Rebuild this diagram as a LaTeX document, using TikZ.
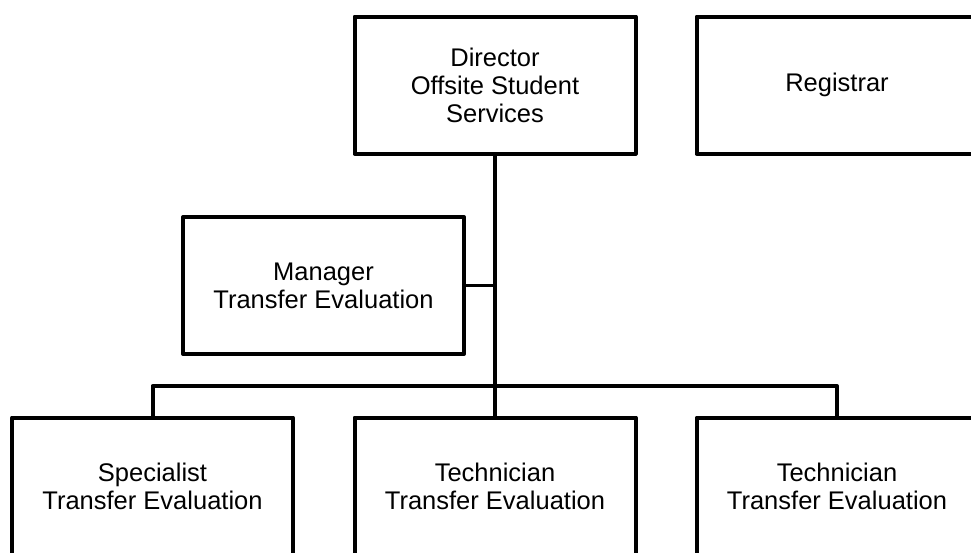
\documentclass[tikz,border=0pt]{standalone}
\usepackage{fontspec}
\setmainfont{Liberation Sans}
\usetikzlibrary{positioning}

\begin{document}
\begin{tikzpicture}[x=1pt, y=-1pt, line join=round,
	box/.style={draw, line width=4pt, minimum width=281pt, minimum height=137pt, align=center, inner sep=0pt, font=\fontsize{25.5}{28}\selectfont},
	link/.style={draw, line width=4pt}]
	\useasboundingbox (0,0) rectangle (971,552);
	\clip (0,0) rectangle (971,552);
	% top row
	\node[box] (director) at (495,85) {Director\\Offsite Student\\Services};
	\node[box] (registrar) at (837,85) {Registrar};
	% staff position beside the main line
	\node[box] (manager) at (323.5,285.5) {Manager\\Transfer Evaluation};
	% bottom row
	\node[box] (specialist) at (152.5,486) {Specialist\\Transfer Evaluation};
	\node[box] (technicianA) at (495,486) {Technician\\Transfer Evaluation};
	\node[box] (technicianB) at (837,486) {Technician\\Transfer Evaluation};
	\coordinate (bus) at (0,386);
	\draw[link] (director.south) -- (technicianA.north);
	\draw[link, line width=3pt] (manager.east) -- (manager.east -| director.south);
	\draw[link] (specialist.north) -- (specialist.north |- bus) -- (technicianB.north |- bus) -- (technicianB.north);
\end{tikzpicture}
\end{document}
